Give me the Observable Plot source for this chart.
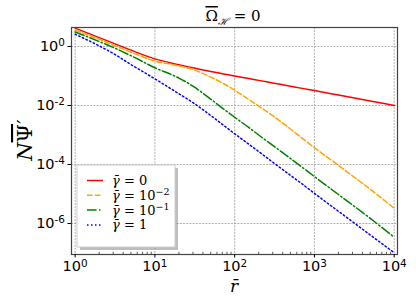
<!DOCTYPE html>
<html><head><meta charset="utf-8">
<script src="https://cdn.jsdelivr.net/npm/d3@7"></script>
<script src="https://cdn.jsdelivr.net/npm/@observablehq/plot@0.6"></script>
<style>body{margin:0;background:#fff}#chart{width:416px;height:308px}text{white-space:pre}</style>
</head><body><div id="chart"></div>
<script>
// ---- data ----
const r = [1, 2, 3, 5, 10, 20, 30, 50, 70, 100, 150, 200, 300, 500, 700, 1000, 2000, 5000, 10000];
const gamma0   = [4.2, 2.0, 1.3, 0.75, 0.38, 0.24, 0.19, 0.142, 0.12, 0.1, 0.082, 0.071, 0.058, 0.045, 0.038, 0.032, 0.0225, 0.0142, 0.01];
const gamma1e2 = [3.6, 1.75, 1.12, 0.64, 0.32, 0.22, 0.165, 0.092, 0.058, 0.033, 0.016, 0.0095, 0.0045, 0.0016, 7.8e-4, 3.7e-4, 9.3e-5, 1.45e-5, 3.3e-6];
const gamma1e1 = [3.1, 1.48, 0.93, 0.49, 0.19, 0.085, 0.045, 0.0165, 8.2e-3, 4e-3, 1.8e-3, 1e-3, 4.45e-4, 1.6e-4, 8.1e-5, 3.9e-5, 9.6e-6, 1.5e-6, 3.4e-7];
const gamma1   = [2.6, 1.05, 0.58, 0.245, 0.08, 0.025, 0.0125, 4.6e-3, 2.3e-3, 1.1e-3, 4.9e-4, 2.75e-4, 1.2e-4, 4.3e-5, 2.2e-5, 1.05e-5, 2.6e-6, 4.1e-7, 1.02e-7];
const seriesNames = ["0", "10^\u22122", "10^\u22121", "1"];
const xTicks = [1, 10, 100, 1000, 10000];
const yTicks = [1, 1e-2, 1e-4, 1e-6];
const xMinor = [2,3,4,5,6,7,8,9,20,30,40,50,60,70,80,90,200,300,400,500,600,700,800,900,2000,3000,4000,5000,6000,7000,8000,9000];

const colors = ["#ff0000", "#ffa500", "#008000", "#0000ff"];
const dashes = [null, "5.5,2.4", "9.6,2.4,1.5,2.4", "1.5,2.5"];
const seriesValues = [gamma0, gamma1e2, gamma1e1, gamma1];
const tables = seriesValues.map(vals => r.map((x, i) => ({r: x, v: vals[i]})));

const xDomain = [0.9, 11000];
const yDomain = [8.9e-8, 4.4];

const chart = Plot.plot({
  width: 416, height: 308,
  marginLeft: 71, marginRight: 19, marginTop: 27, marginBottom: 54,
  style: {fontFamily: "DejaVu Sans", fontSize: "14.5px", background: "white", color: "black"},
  x: {type: "log", domain: xDomain, label: null},
  y: {type: "log", domain: yDomain, label: null},
  marks: [
    Plot.gridX(xTicks, {stroke: "#999", strokeOpacity: 1, strokeWidth: 0.8, strokeDasharray: "2,1.2"}),
    Plot.gridY(yTicks, {stroke: "#999", strokeOpacity: 1, strokeWidth: 0.8, strokeDasharray: "2,1.2"}),
    Plot.ruleX(xMinor, {y1: yDomain[0], y2: yDomain[0] * Math.pow(10, 2.2 / 29.55), stroke: "#333", strokeWidth: 0.8}),
    ...tables.map((t, i) => Plot.line(t, {x: "r", y: "v", stroke: colors[i], strokeWidth: 1.5,
      strokeDasharray: dashes[i], curve: "monotone-x"})),
    Plot.frame({stroke: "#444", strokeWidth: 1.2}),
    Plot.axisX(xTicks, {tickSize: 3.5, tickPadding: 3, tickFormat: d => "10^" + Math.round(Math.log10(d)), label: null}),
    Plot.axisY(yTicks, {tickSize: 3.5, tickPadding: 3, tickFormat: d => "10^" + Math.round(Math.log10(d)), label: null})
  ]
});
document.getElementById("chart").appendChild(chart);

const svg = d3.select(chart);
// superscript exponents on tick labels
svg.selectAll('g[aria-label="x-axis tick label"] text, g[aria-label="y-axis tick label"] text').each(function () {
  const t = d3.select(this);
  const [b, e] = t.text().split("^");
  t.text("");
  t.append("tspan").text(b);
  t.append("tspan").attr("dy", "-0.45em").attr("font-size", "0.72em").text(e.replace("\u2212", "-"));
});

const serif = "'DejaVu Serif', serif";
// title
const title = svg.append("text").attr("x", 233).attr("y", 21).attr("text-anchor", "middle")
  .attr("font-family", serif).attr("font-size", 15);
title.append("tspan").style("text-decoration", "overline").text("\u03A9");
title.append("tspan").attr("dy", 4).attr("font-size", 10).attr("font-style", "italic").text("\u210B");
title.append("tspan").attr("dy", -4).text(" = 0");

// x label
svg.append("text").attr("x", 234).attr("y", 292).attr("text-anchor", "middle")
  .attr("font-family", serif).attr("font-size", 17).attr("font-style", "italic").text("r\u0304");

// y label
const yl = svg.append("text").attr("transform", "translate(32,140) rotate(-90)").attr("text-anchor", "middle")
  .attr("font-family", serif).attr("font-size", 21);
yl.append("tspan").attr("font-style", "italic").text("N");
yl.append("tspan").style("text-decoration", "overline").text("\u03A8");
yl.append("tspan").text("\u2032");

// legend
const lg = svg.append("g").attr("text-anchor", "start");
lg.append("rect").attr("x", 80).attr("y", 168).attr("width", 98).attr("height", 82).attr("fill", "#888").attr("fill-opacity", 0.55);
lg.append("rect").attr("x", 77).attr("y", 165).attr("width", 98).attr("height", 82).attr("fill", "white").attr("stroke", "#ccc").attr("stroke-width", 1);
seriesNames.forEach((name, i) => {
  const y = 180.5 + i * 14.8;
  lg.append("line").attr("x1", 87).attr("x2", 103).attr("y1", y).attr("y2", y)
    .attr("stroke", colors[i]).attr("stroke-width", 1.5).attr("stroke-dasharray", dashes[i]);
  const t = lg.append("text").attr("x", 112).attr("y", y + 4.5).attr("text-anchor", "start")
    .attr("font-family", serif).attr("font-size", 13);
  t.append("tspan").attr("font-style", "italic").text("\u03B3\u0304");
  t.append("tspan").text(" = ");
  const [b, e] = name.split("^");
  t.append("tspan").text(b);
  if (e) t.append("tspan").attr("dy", -5).attr("font-size", 9.5).text(e);
});
</script>
</body></html>
